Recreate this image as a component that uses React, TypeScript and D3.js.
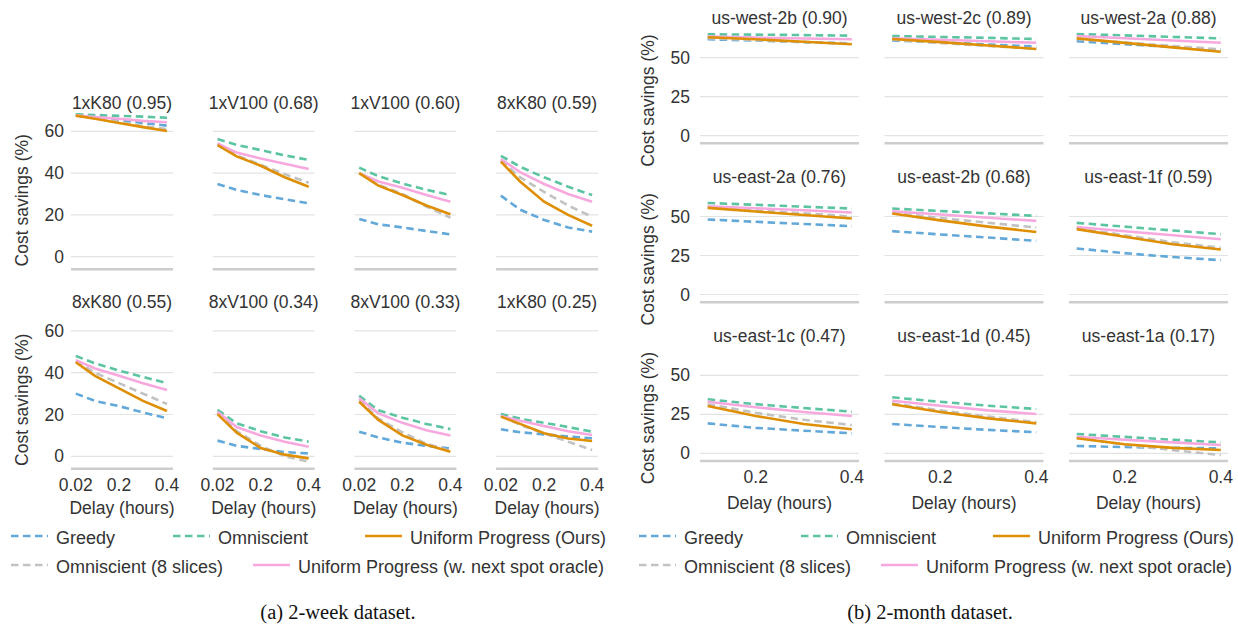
import React from "react";
import * as d3 from "d3";

// ---------- data ----------
const seriesNames = ["Greedy", "Omniscient", "Uniform Progress (Ours)", "Omniscient (8 slices)", "Uniform Progress (w. next spot oracle)"];
const seriesColors = ["#62a8d8", "#5cc4a2", "#de8f05", "#c2c2c2", "#f7a9df"];
const seriesDashed = [true, true, false, true, false];
const drawOrder = [0, 1, 3, 4, 2];

// 2-week dataset
const weekDelays = [0.02, 0.1, 0.2, 0.3, 0.4];
const weekTicks = [0.02, 0.2, 0.4];
const weekYTicks = [0, 20, 40, 60];
const weekTitles = ["1xK80 (0.95)", "1xV100 (0.68)", "1xV100 (0.60)", "8xK80 (0.59)", "8xK80 (0.55)", "8xV100 (0.34)", "8xV100 (0.33)", "1xK80 (0.25)"];
const weekGreedy = [
  [68, 67, 65.5, 64, 62.7], [34.8, 32, 29.5, 27.5, 25.5], [18, 15.5, 14, 12.3, 10.7], [29.2, 22.5, 17.6, 14, 12],
  [30, 26.5, 24, 21, 18.2], [7.5, 5, 3.5, 2, 1.4], [11.8, 9, 6.5, 5, 3.8], [12.9, 11.5, 10.5, 9.5, 8.6],
];
const weekOmni = [
  [68.1, 67.8, 67.4, 67, 66.5], [56.3, 53.5, 51, 48.5, 46.3], [42.6, 38.5, 35, 32, 29.5], [48.3, 43, 38, 33.5, 29.5],
  [48, 44.5, 41, 38, 35], [22.2, 15.8, 12, 9, 7], [29, 22, 18.5, 15.5, 13], [20.2, 18, 16, 14, 11.8],
];
const weekOurs = [
  [67.5, 66, 64, 62, 60.1], [53.4, 48, 43.5, 38, 33.5], [40, 34, 29.5, 24.5, 20.3], [45.5, 36, 26.3, 20, 14.8],
  [45, 38.5, 32.5, 26.5, 21.7], [20.2, 11.3, 4, 0.8, -1], [26.1, 17.4, 10, 5.5, 2.2], [19, 15.5, 11, 8.5, 7.3],
];
const weekOmni8 = [
  [67.8, 66.5, 64.5, 62.5, 61], [53.5, 48.5, 44, 39.5, 35.4], [40, 34.5, 30, 24, 18.7], [46, 38, 31, 24.5, 19.1],
  [45.5, 40, 35, 30, 25], [21, 12, 5, 0, -2.6], [27, 18, 11.5, 6, 2.5], [19.5, 15, 11, 7, 3],
];
const weekOracle = [
  [67.5, 66.8, 66, 65, 64.3], [54.2, 49.8, 47, 44.5, 42], [40, 36, 33, 29.5, 26.3], [46.7, 40.5, 34.8, 30, 26.3],
  [46, 42, 38.5, 35, 31.7], [21.3, 14, 10, 7, 4.6], [27.8, 20.5, 16, 12.5, 10], [19.3, 17, 14.5, 12, 10.2],
];

// 2-month dataset
const monthDelays = [0.1, 0.2, 0.3, 0.4];
const monthTicks = [0.2, 0.4];
const monthYTicks = [0, 25, 50];
const monthTitles = ["us-west-2b (0.90)", "us-west-2c (0.89)", "us-west-2a (0.88)", "us-east-2a (0.76)", "us-east-2b (0.68)", "us-east-1f (0.59)", "us-east-1c (0.47)", "us-east-1d (0.45)", "us-east-1a (0.17)"];
const monthGreedy = [
  [61.8, 61, 60, 59.2], [61, 59.8, 58.5, 57.1], [60.5, 58.7, 56.8, 55],
  [48.1, 46.6, 45.2, 43.8], [40.6, 38.5, 36.5, 34.4], [29.5, 26.5, 24, 22],
  [19.2, 16.3, 14.5, 12.8], [18.8, 16.8, 15, 13.5], [4.7, 4, 3.5, 3.2],
];
const monthOmni = [
  [65, 64.8, 64.5, 64.1], [63.9, 63.3, 62.7, 62], [65.2, 64.3, 63.3, 62.4],
  [58.7, 57.5, 56.3, 55.1], [55.1, 53.5, 52, 50.4], [45.9, 43.5, 41, 38.7],
  [34.6, 31.5, 29, 26.7], [35.9, 33, 30.5, 28.4], [12.4, 10.5, 8.7, 7],
];
const monthOurs = [
  [63.1, 61.8, 60.2, 58.6], [62, 60, 57.8, 55.6], [62.4, 59.5, 56.6, 53.8],
  [55.5, 53.2, 51, 48.7], [51.9, 47.5, 43.5, 40.1], [41.9, 37, 32.2, 28.8],
  [30.3, 23.9, 18.8, 15.4], [31.4, 26.5, 22.4, 19.2], [9.6, 5.8, 3.5, 2.1],
];
const monthOmni8 = [
  [62.5, 61.3, 60, 58.8], [61.5, 59.5, 57.5, 55.8], [62, 59.8, 57.5, 55.4],
  [56, 54, 52, 50], [52.5, 49, 46, 42.9], [42.5, 38, 33.5, 30],
  [31.5, 26, 21.5, 18.1], [32, 27.5, 23.5, 20], [10, 5.5, 2, -1.1],
];
const monthOracle = [
  [63.5, 62.9, 62.3, 61.8], [62.5, 61.5, 60.5, 59.6], [63.9, 62.5, 61, 59.6],
  [56.6, 55.3, 54, 52.6], [53.4, 51.3, 49.2, 47.2], [43.3, 40.5, 38, 35.4],
  [33, 29.5, 26.5, 23.9], [33.7, 30.5, 27.5, 25.2], [10.6, 8.7, 7, 5.3],
];

const weekSeries = [weekGreedy, weekOmni, weekOurs, weekOmni8, weekOracle];
const monthSeries = [monthGreedy, monthOmni, monthOurs, monthOmni8, monthOracle];

// ---------- style ----------
const FONT = "'Liberation Sans', Arial, Helvetica, sans-serif";
const TEXT = "#333333";
const FS = 17.5;
const LFS = 18;

type PanelProps = {
  x0: number; zeroY: number; width: number; xDomain: [number, number];
  yUnit: number; yUnitPx: number; yMin: number; yTicks: number[];
  delays: number[]; values: number[][]; title: string; titleDy: number;
  showY: boolean; yLabelX: number; yTickX: number;
  showX: boolean; xTicks: number[]; xTickDy: number; xLabelDy: number;
  xTickFmt: (v: number) => string;
};

function Panel(p: PanelProps) {
  const x = d3.scaleLinear().domain(p.xDomain).range([p.x0, p.x0 + p.width]);
  const y = d3.scaleLinear().domain([0, p.yUnit]).range([p.zeroY, p.zeroY - p.yUnitPx]);
  const line = d3.line<number>().x((_, i) => x(p.delays[i])).y((v) => y(v)).curve(d3.curveLinear);
  const xmid = p.x0 + p.width / 2;
  const labelY = p.zeroY - (p.yUnitPx / p.yUnit) * (p.yTicks[p.yTicks.length - 1] + p.yMin) / 2;
  return (
    <g>
      {p.yTicks.map((t) => (
        <line key={"g" + t} x1={p.x0} x2={p.x0 + p.width} y1={y(t)} y2={y(t)} stroke="#e3e3e3" strokeWidth={1.2} />
      ))}
      <line x1={p.x0} x2={p.x0 + p.width} y1={y(p.yMin)} y2={y(p.yMin)} stroke="#cdcdcd" strokeWidth={2.5} />
      {drawOrder.map((si) => (
        <path key={"s" + si} d={line(p.values[si]) || ""} fill="none" stroke={seriesColors[si]} strokeWidth={2.6}
          strokeDasharray={seriesDashed[si] ? "7.5,4.5" : undefined} />
      ))}
      <text x={xmid} y={p.zeroY - p.titleDy} textAnchor="middle" fontSize={FS} fill={TEXT} fontFamily={FONT}>{p.title}</text>
      {p.showY && p.yTicks.map((t) => (
        <text key={"yt" + t} x={p.yTickX} y={y(t) + 6} textAnchor="end" fontSize={FS} fill={TEXT} fontFamily={FONT}>{t}</text>
      ))}
      {p.showY && (
        <text transform={`translate(${p.yLabelX},${labelY}) rotate(-90)`}
          textAnchor="middle" fontSize={FS} fill={TEXT} fontFamily={FONT}>Cost savings (%)</text>
      )}
      {p.showX && p.xTicks.map((t) => (
        <text key={"xt" + t} x={x(t)} y={p.zeroY + p.xTickDy} textAnchor="middle" fontSize={FS} fill={TEXT} fontFamily={FONT}>{p.xTickFmt(t)}</text>
      ))}
      {p.showX && (
        <text x={xmid} y={p.zeroY + p.xLabelDy} textAnchor="middle" fontSize={FS} fill={TEXT} fontFamily={FONT}>Delay (hours)</text>
      )}
    </g>
  );
}

function Legend({ dx }: { dx: number }) {
  const items = [
    { s: 0, lx: 11, ty: 537 }, { s: 1, lx: 173, ty: 537 }, { s: 2, lx: 365, ty: 537 },
    { s: 3, lx: 11, ty: 566 }, { s: 4, lx: 253, ty: 566 },
  ];
  return (
    <g>
      {items.map((it) => (
        <g key={it.s}>
          <line x1={it.lx + dx} x2={it.lx + dx + 37} y1={it.ty - 1} y2={it.ty - 1} stroke={seriesColors[it.s]} strokeWidth={2.6}
            strokeDasharray={seriesDashed[it.s] ? "7.5,4.5" : undefined} />
          <text x={it.lx + dx + 45} y={it.ty + 6.5} fontSize={LFS} fill={TEXT} fontFamily={FONT}>{seriesNames[it.s]}</text>
        </g>
      ))}
    </g>
  );
}

export default function App() {
  const fmtWeek = (v: number) => (v === 0.02 ? "0.02" : d3.format(".1f")(v));
  const fmtMonth = (v: number) => d3.format(".1f")(v);
  return (
    <svg width={1238} height={629} style={{ position: "absolute", left: 0, top: 0, background: "#fff" }}>
      {weekTitles.map((title, k) => {
        const r = Math.floor(k / 4), c = k % 4;
        return (
          <Panel key={"w" + k} x0={71 + c * 141.7} zeroY={256.7 + r * 199.6} width={102} xDomain={[0, 0.425]}
            yUnit={20} yUnitPx={41.8} yMin={-6} yTicks={weekYTicks} delays={weekDelays}
            values={weekSeries.map((s) => s[k])} title={title} titleDy={148}
            showY={c === 0} yLabelX={28} yTickX={64}
            showX={r === 1} xTicks={weekTicks} xTickDy={35} xLabelDy={58} xTickFmt={fmtWeek} />
        );
      })}
      {monthTitles.map((title, k) => {
        const r = Math.floor(k / 3), c = k % 3;
        return (
          <Panel key={"m" + k} x0={700 + c * 184.5} zeroY={135.7 + r * 158.8} width={159} xDomain={[0.084, 0.415]}
            yUnit={25} yUnitPx={39} yMin={-4.9} yTicks={monthYTicks} delays={monthDelays}
            values={monthSeries.map((s) => s[k])} title={title} titleDy={111.7}
            showY={c === 0} yLabelX={654} yTickX={690}
            showX={r === 2} xTicks={monthTicks} xTickDy={30} xLabelDy={56} xTickFmt={fmtMonth} />
        );
      })}
      <Legend dx={0} />
      <Legend dx={628} />
      <text x={338} y={619} textAnchor="middle" fontSize={20.5} fill="#111" fontFamily="'Liberation Serif', 'Times New Roman', serif">(a) 2-week dataset.</text>
      <text x={930} y={619} textAnchor="middle" fontSize={20.5} fill="#111" fontFamily="'Liberation Serif', 'Times New Roman', serif">(b) 2-month dataset.</text>
    </svg>
  );
}
